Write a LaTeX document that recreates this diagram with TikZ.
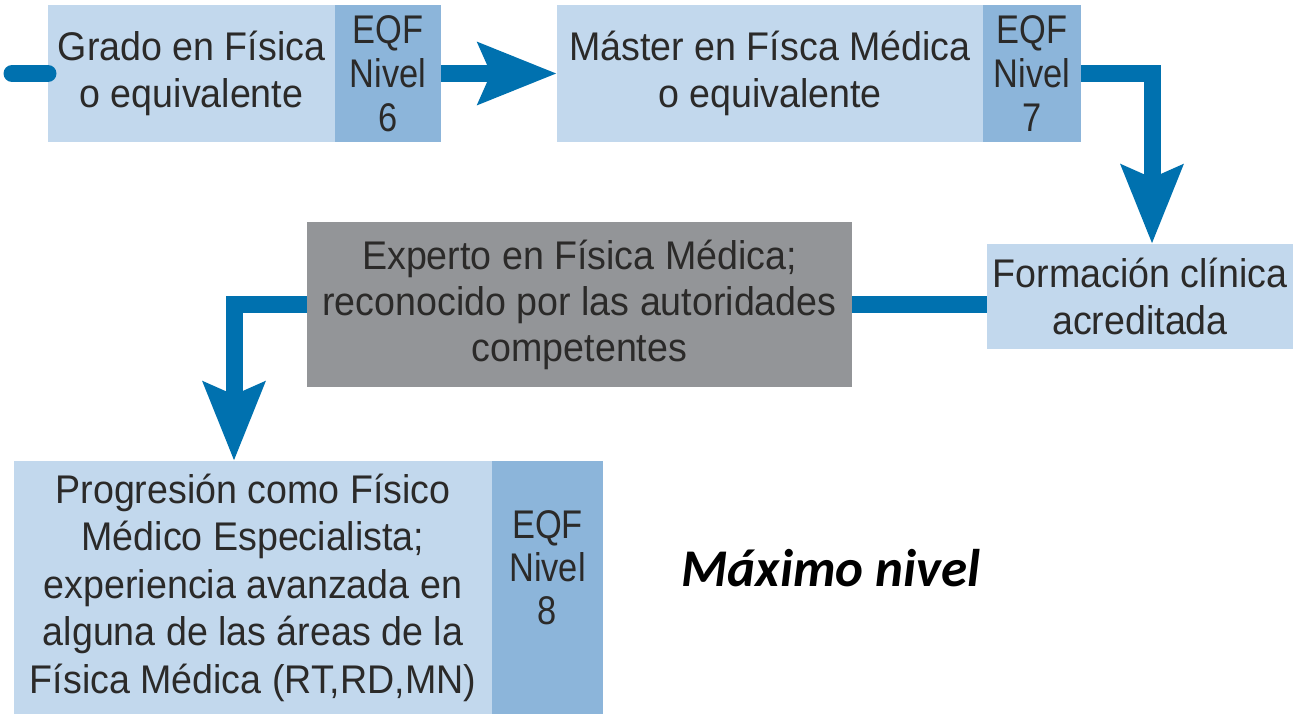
\documentclass[tikz,border=0pt]{standalone}
\usepackage{fontspec}
\setmainfont{Liberation Sans}[FakeStretch=0.94]
\newfontfamily\narrowfont{Liberation Sans}[FakeStretch=0.86]
\newfontfamily\calfont{Carlito}
\usetikzlibrary{arrows.meta,calc}
\definecolor{lightb}{HTML}{C2D8ED}
\definecolor{darkb}{HTML}{8CB5DA}
\definecolor{arrowb}{HTML}{0071AF}
\definecolor{grayb}{HTML}{939598}
\definecolor{txt}{HTML}{2B2A29}
\begin{document}
\begin{tikzpicture}[x=1pt,y=-1pt,
  box/.style={anchor=north west,inner sep=0pt,outer sep=0pt,align=center,text=txt,
    font=\fontsize{40}{47.5}\selectfont},
  lbox/.style={box,fill=lightb},
  dbox/.style={box,fill=darkb,font=\narrowfont\fontsize{40}{44}\selectfont},
  gbox/.style={box,fill=grayb,font=\fontsize{40}{46}\selectfont},
  conn/.style={draw=arrowb,line width=17pt},
  tip/.style={-{Stealth[length=78pt,width=60pt,inset=12pt]}},
  maxlabel/.style={font=\calfont\bfseries\itshape\fontsize{53}{56}\selectfont,text=black}]
\useasboundingbox (0,0) rectangle (1293,714);
% boxes
\node[lbox,minimum width=287pt,minimum height=137pt] (g1) at (48,5) {Grado en Física\\o equivalente};
\node[dbox,minimum width=106pt,minimum height=137pt] (g1q) at (335,5) {EQF\\Nivel\\6};
\node[lbox,minimum width=426pt,minimum height=137pt] (m1) at (557,5) {Máster en Físca Médica\\o equivalente};
\node[dbox,minimum width=98pt,minimum height=137pt] (m1q) at (983,5) {EQF\\Nivel\\7};
\node[lbox,minimum width=306pt,minimum height=105pt] (f) at (987,244) {Formación clínica\\acreditada};
\node[gbox,minimum width=545pt,minimum height=165pt] (gr) at (307,222) {Experto en Física Médica;\\reconocido por las autoridades\\competentes};
\node[lbox,minimum width=478pt,minimum height=253pt] (p1) at (14,461) {Progresión como Físico\\Médico Especialista;\\experiencia avanzada en\\alguna de las áreas de la\\Física Médica (RT,RD,MN)};
\node[dbox,minimum width=111pt,minimum height=253pt] (p1q) at (492,461) {};
\node[box,anchor=center,font=\narrowfont\fontsize{40}{43}\selectfont] (p1t) at (547.5,568) {EQF\\Nivel\\8};
\node[maxlabel] (mx) at (831,568) {Máximo nivel};
% connectors
\coordinate (s0) at ($(g1.west)+(-36,0)$);
\draw[conn,line cap=round] (s0) -- (g1.west);
\draw[conn,tip] (g1q.east) -- (m1.west);
\draw[conn,tip] (m1q.east) -| ([xshift=12pt]f.north);
\draw[conn] (gr.east) -- (gr.east -| f.west);
\draw[conn,tip] (gr.west) -| ([xshift=-19pt]p1.north);
\end{tikzpicture}
\end{document}
